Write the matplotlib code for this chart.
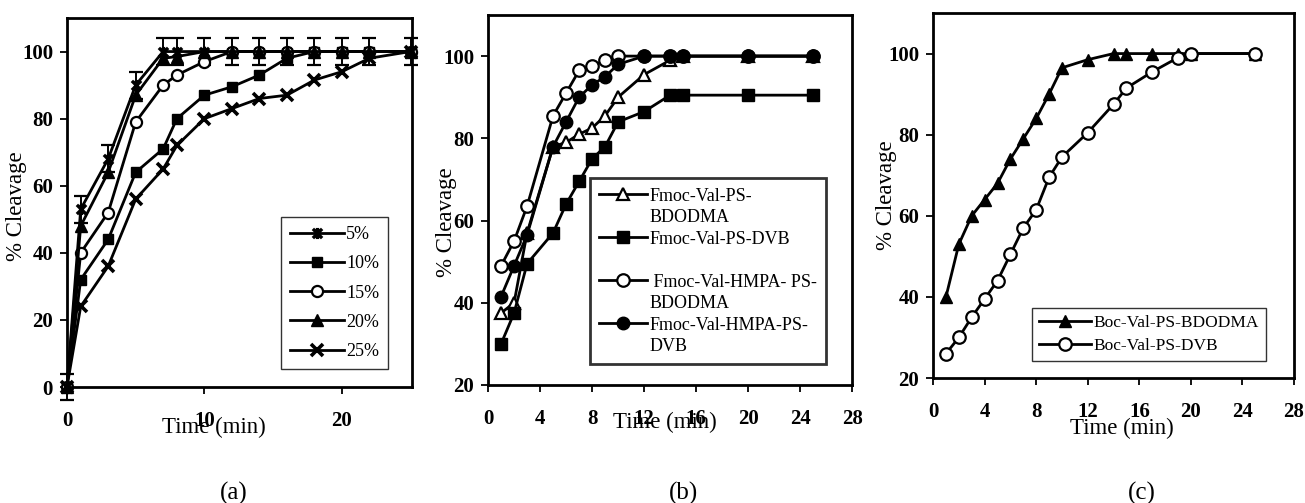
import matplotlib
matplotlib.use('Agg')
import matplotlib.pyplot as plt
from matplotlib.lines import Line2D
from matplotlib.path import Path

plt.rcParams['font.family'] = ['Liberation Serif', 'DejaVu Serif']

# (a) cleavage vs time for different crosslink densities
time_a = [0, 1, 3, 5, 7, 8, 10, 12, 14, 16, 18, 20, 22, 25]
names_a = ['5%', '10%', '15%', '20%', '25%']
cleave_5 = [0, 53, 68, 90, 100, 100, 100, 100, 100, 100, 100, 100, 100, 100]
cleave_10 = [0, 32, 44, 64, 71, 80, 87, 89.5, 93, 98, 100, 100, 100, 100]
cleave_15 = [0, 40, 52, 79, 90, 93, 97, 100, 100, 100, 100, 100, 100, 100]
cleave_20 = [0, 48, 64, 87, 98, 98.5, 100, 100, 100, 100, 100, 100, 100, 100]
cleave_25 = [0, 24, 36, 56, 65, 72, 80, 83, 86, 87, 91.5, 94, 98, 100]
err_5 = 4

# (b) Fmoc-Val resins
time_b = [1, 2, 3, 5, 6, 7, 8, 9, 10, 12, 14, 15, 20, 25]
names_b = ['Fmoc-Val-PS-\nBDODMA', 'Fmoc-Val-PS-DVB\n',
           ' Fmoc-Val-HMPA- PS-\nBDODMA', 'Fmoc-Val-HMPA-PS-\nDVB']
fmoc_ps_bdodma = [37.5, 40, 57, 78, 79, 81, 82.5, 85.5, 90, 95.5, 99, 100, 100, 100]
fmoc_ps_dvb = [30, 37.5, 49.5, 57, 64, 69.5, 75, 78, 84, 86.5, 90.5, 90.5, 90.5, 90.5]
fmoc_hmpa_bdodma = [49, 55, 63.5, 85.5, 91, 96.5, 97.5, 99, 100, 100, 100, 100, 100, 100]
fmoc_hmpa_dvb = [41.5, 49, 56.5, 78, 84, 90, 93, 95, 98, 100, 100, 100, 100, 100]

# (c) Boc-Val resins
time_c = [1, 2, 3, 4, 5, 6, 7, 8, 9, 10, 12, 14, 15, 17, 19, 20, 25]
names_c = ['Boc-Val-PS-BDODMA', 'Boc-Val-PS-DVB']
boc_bdodma = [40, 53, 60, 64, 68, 74, 79, 84, 90, 96.5, 98.5, 100, 100, 100, 100, 100, 100]
boc_dvb = [26, 30, 35, 39.5, 44, 50.5, 57, 61.5, 69.5, 74.5, 80.5, 87.5, 91.5, 95.5, 99, 100, 100]

star = Path([(-1, -1), (1, 1), (-1, 1), (1, -1), (0, -1.2), (0, 1.2)],
            [Path.MOVETO, Path.LINETO, Path.MOVETO, Path.LINETO, Path.MOVETO, Path.LINETO])

fig = plt.figure(figsize=(13.05, 5.03), dpi=100)
ax_a = fig.add_axes([0.0513, 0.2306, 0.2644, 0.7336])
ax_b = fig.add_axes([0.374, 0.2346, 0.279, 0.7356])
ax_c = fig.add_axes([0.715, 0.2485, 0.2766, 0.7256])


def style_axes(ax, xticks, yticks, xlim, ylim, xlab, ylab):
    ax.set_xlim(*xlim)
    ax.set_ylim(*ylim)
    ax.set_xticks(xticks)
    ax.set_xticklabels([str(t) for t in xticks], fontweight='bold', fontsize=15)
    ax.set_yticks(yticks)
    ax.set_yticklabels([str(t) for t in yticks], fontweight='bold', fontsize=15)
    ax.tick_params(direction='out', length=5, width=1.3, pad=5)
    ax.tick_params(axis='x', pad=12)
    for s in ax.spines.values():
        s.set_linewidth(2)
    ax.set_xlabel('Time (min)', fontsize=16.5)
    ax.xaxis.set_label_coords(*xlab)
    ax.set_ylabel('% Cleavage', fontsize=16.5)
    ax.yaxis.set_label_coords(*ylab)


lw = 2
# ---- (a)
ax_a.errorbar(time_a, cleave_5, yerr=err_5, fmt='none', ecolor='black',
              elinewidth=1.4, capsize=5, capthick=1.6, clip_on=False)
ax_a.plot(time_a, cleave_5, color='black', lw=lw, marker=star, ms=8, mew=2.4,
          label=names_a[0], clip_on=False)
ax_a.plot(time_a, cleave_10, color='black', lw=lw, marker='s', ms=7.5,
          label=names_a[1], clip_on=False)
ax_a.plot(time_a, cleave_15, color='black', lw=lw, marker='o', ms=8, mfc='white',
          mew=1.6, label=names_a[2], clip_on=False)
ax_a.plot(time_a, cleave_20, color='black', lw=lw, marker='^', ms=8.5,
          label=names_a[3], clip_on=False)
ax_a.plot(time_a, cleave_25, color='black', lw=lw, marker='x', ms=8, mew=2.6,
          label=names_a[4], clip_on=False)
style_axes(ax_a, [0, 10, 20], [0, 20, 40, 60, 80, 100], (0, 25.1), (0, 110),
           (0.426, -0.08), (-0.116, 0.49))
leg = ax_a.legend(loc='lower right', bbox_to_anchor=(0.957, 0.024), fontsize=13,
                  frameon=True, fancybox=False, edgecolor='black', handlelength=3,
                  handletextpad=0.1, labelspacing=0.68, borderpad=0.5, numpoints=1)
leg.get_frame().set_linewidth(1)

# ---- (b)
lines_b = []
lines_b.append(ax_b.plot(time_b, fmoc_ps_bdodma, color='black', lw=lw, marker='^', ms=9,
                         mfc='white', mew=1.6)[0])
lines_b.append(ax_b.plot(time_b, fmoc_ps_dvb, color='black', lw=lw, marker='s', ms=9)[0])
lines_b.append(ax_b.plot(time_b, fmoc_hmpa_bdodma, color='black', lw=lw, marker='o', ms=9,
                         mfc='white', mew=1.6)[0])
lines_b.append(ax_b.plot(time_b, fmoc_hmpa_dvb, color='black', lw=lw, marker='o', ms=9)[0])
style_axes(ax_b, list(range(0, 29, 4)), [20, 40, 60, 80, 100], (0, 28), (20, 110),
           (0.486, -0.073), (-0.085, 0.44))

# legend rows: marker only on the first line of each name
handles, labels = [], []
for ln, name in zip(lines_b, names_b):
    for i, part in enumerate(name.split('\n')):
        handles.append(ln if i == 0 else Line2D([], [], color='none'))
        labels.append(part)
leg = ax_b.legend(handles, labels, loc='lower right', bbox_to_anchor=(0.953, 0.032),
                  fontsize=13, frameon=True, fancybox=False, edgecolor='black',
                  handlelength=2.7, handletextpad=0.1, labelspacing=0.25,
                  borderpad=0.5, numpoints=1)
leg.get_frame().set_linewidth(2)

# ---- (c)
ax_c.plot(time_c, boc_bdodma, color='black', lw=lw, marker='^', ms=9, label=names_c[0])
ax_c.plot(time_c, boc_dvb, color='black', lw=lw, marker='o', ms=9, mfc='white',
          mew=1.6, label=names_c[1])
style_axes(ax_c, list(range(0, 29, 4)), [20, 40, 60, 80, 100], (0, 28), (20, 110),
           (0.524, -0.11), (-0.1, 0.5))
leg = ax_c.legend(loc='lower right', bbox_to_anchor=(0.945, 0.022), fontsize=12.5,
                  frameon=True, fancybox=False, edgecolor='black', handlelength=3,
                  handletextpad=0.1, labelspacing=0.4, borderpad=0.4, numpoints=1)
leg.get_frame().set_linewidth(1)

fig.text(234 / 1305, 1 - 493 / 503, '(a)', ha='center', va='center', fontsize=18)
fig.text(683 / 1305, 1 - 493 / 503, '(b)', ha='center', va='center', fontsize=18)
fig.text(1142 / 1305, 1 - 493 / 503, '(c)', ha='center', va='center', fontsize=18)

fig.savefig('out.png', dpi=100)
